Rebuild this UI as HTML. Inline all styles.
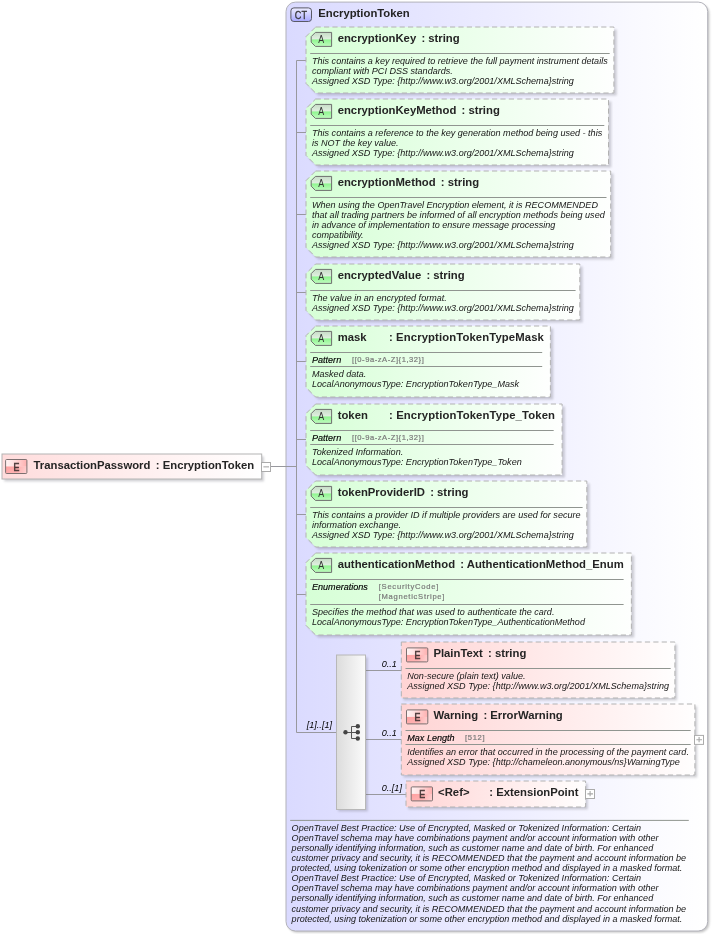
<!DOCTYPE html>
<html><head><meta charset="utf-8"><title>EncryptionToken</title>
<style>html,body{margin:0;padding:0;background:#fff}svg{display:block}text{font-family:"Liberation Sans",sans-serif;white-space:pre}.n{font-weight:bold;font-size:11.3px;fill:#242424}.d{font-style:italic;font-size:9.06px;fill:#161616}.k{font-style:italic;font-size:9.06px;fill:#000;stroke:#000;stroke-width:0.15px}.f{font-size:7.6px;fill:#7a7a7a;stroke:#7a7a7a;stroke-width:0.2px}.m{font-style:italic;font-size:9.06px;fill:#000}.b{font-size:11px;fill:#333}</style></head><body>
<svg width="712" height="934" viewBox="0 0 712 934" style="will-change:transform">
<defs>
<linearGradient id="gc" x1="0" y1="0" x2="1" y2="0"><stop offset="0" stop-color="#dadaff"/><stop offset="0.5" stop-color="#ececff"/><stop offset="0.82" stop-color="#f9f9ff"/><stop offset="1" stop-color="#ffffff"/></linearGradient>
<linearGradient id="ga" x1="0" y1="0" x2="1" y2="0"><stop offset="0" stop-color="#d6ffd6"/><stop offset="1" stop-color="#fefffe"/></linearGradient>
<linearGradient id="ge" x1="0" y1="0" x2="1" y2="0"><stop offset="0" stop-color="#ffd4d4"/><stop offset="1" stop-color="#fffefe"/></linearGradient>
<linearGradient id="gr" x1="0" y1="0" x2="1" y2="0"><stop offset="0" stop-color="#ffdcdc"/><stop offset="1" stop-color="#ffffff"/></linearGradient>
<linearGradient id="gs" x1="0" y1="0" x2="1" y2="0"><stop offset="0" stop-color="#dcdcdc"/><stop offset="1" stop-color="#fbfbfb"/></linearGradient>
<linearGradient id="gba" x1="0" y1="0" x2="0" y2="1"><stop offset="0" stop-color="#c6dcc6"/><stop offset="0.46" stop-color="#dfefdf"/><stop offset="0.54" stop-color="#90f690"/><stop offset="1" stop-color="#c0fbc0"/></linearGradient>
<linearGradient id="gbe" x1="0" y1="0" x2="1" y2="0"><stop offset="0" stop-color="#fff4f4"/><stop offset="0.35" stop-color="#ffe2e2"/><stop offset="1" stop-color="#ffb0b0"/></linearGradient>
<linearGradient id="gbe2" x1="0" y1="0" x2="1" y2="0"><stop offset="0" stop-color="#ffa0a0"/><stop offset="0.5" stop-color="#ffa8a8"/><stop offset="1" stop-color="#ffcccc"/></linearGradient>
<linearGradient id="gbe3" x1="0" y1="0" x2="0" y2="1"><stop offset="0" stop-color="#fff" stop-opacity="0"/><stop offset="1" stop-color="#fff" stop-opacity="0.15"/></linearGradient>
<linearGradient id="gbc" x1="0" y1="0" x2="0" y2="1"><stop offset="0" stop-color="#ececff"/><stop offset="0.45" stop-color="#d0d0ff"/><stop offset="1" stop-color="#a8a8ff"/></linearGradient>
<filter id="sh" x="-5%" y="-5%" width="115%" height="120%"><feGaussianBlur stdDeviation="0.9"/></filter>
<filter id="sh2" x="-5%" y="-5%" width="110%" height="110%"><feGaussianBlur stdDeviation="0.9"/></filter>
</defs>
<rect x="287.6" y="3.7" width="421.70000000000005" height="928.9" rx="9.5" fill="#888" opacity="0.5" filter="url(#sh2)"/>
<rect x="286.0" y="2.1" width="421.70000000000005" height="928.9" rx="9.5" fill="url(#gc)" stroke="#b2b2ba" stroke-width="1"/>
<rect x="290.9" y="7.9" width="20.6" height="13.6" rx="3" fill="url(#gbc)" stroke="#5a5a66" stroke-width="1"/>
<text class="b" transform="translate(300.9 18.6) scale(0.84 1)" text-anchor="middle" style="stroke:#333;stroke-width:0.25px">CT</text>
<text class="n" x="318.3" y="16.9">EncryptionToken</text>
<g stroke="#98989e" stroke-width="1" fill="none">
<path d="M296.5 60.5 V732.5"/>
<path d="M296.5 60.5 H306.0"/>
<path d="M296.5 132.5 H306.0"/>
<path d="M296.5 214.5 H306.0"/>
<path d="M296.5 292.5 H306.0"/>
<path d="M296.5 361.5 H306.0"/>
<path d="M296.5 439.5 H306.0"/>
<path d="M296.5 514.5 H306.0"/>
<path d="M296.5 594.5 H306.0"/>
<path d="M296.5 732.5 H336"/>
<path d="M270.7 466.5 H296.5"/>
<path d="M365.8 670.5 H401.3"/>
<path d="M365.8 739.5 H401.3"/>
<path d="M365.8 794.5 H406"/>
</g>
<path d="M315.6 27 H613.9 V93 H315.6 L306.0 83.4 V36.6 Z" transform="translate(2.8,2.6)" fill="#70707c" opacity="0.32" filter="url(#sh)"/>
<path d="M315.6 27 H613.9 V93 H315.6 L306.0 83.4 V36.6 Z" fill="url(#ga)" stroke="#b2b2b2" stroke-width="1" stroke-dasharray="5.2 3.2"/>
<path d="M331.6 32.4 H315.4 L311.2 36.6 V42.199999999999996 L315.4 46.4 H331.6 Z" fill="url(#gba)" stroke="#6e6e6e" stroke-width="1" stroke-linejoin="round"/>
<text class="b" transform="translate(321.3 43.35) scale(0.84 1)" text-anchor="middle" style="font-size:10.6px">A</text>
<text class="n" x="337.7" y="41.9">encryptionKey</text>
<text class="n" x="421.4" y="41.9">: string</text>
<path d="M310.2 53.5 H609.6999999999999" stroke="#909590" stroke-width="1"/>
<text class="d" x="312.0" y="64.0">This contains a key required to retrieve the full payment instrument details</text>
<text class="d" x="312.0" y="74.07">compliant with PCI DSS standards.</text>
<text class="d" x="312.0" y="84.14">Assigned XSD Type: {http://www.w3.org/2001/XMLSchema}string</text>
<path d="M315.6 99 H608.5 V165 H315.6 L306.0 155.4 V108.6 Z" transform="translate(2.8,2.6)" fill="#70707c" opacity="0.32" filter="url(#sh)"/>
<path d="M315.6 99 H608.5 V165 H315.6 L306.0 155.4 V108.6 Z" fill="url(#ga)" stroke="#b2b2b2" stroke-width="1" stroke-dasharray="5.2 3.2"/>
<path d="M331.6 104.4 H315.4 L311.2 108.60000000000001 V114.2 L315.4 118.4 H331.6 Z" fill="url(#gba)" stroke="#6e6e6e" stroke-width="1" stroke-linejoin="round"/>
<text class="b" transform="translate(321.3 115.35) scale(0.84 1)" text-anchor="middle" style="font-size:10.6px">A</text>
<text class="n" x="337.7" y="113.9">encryptionKeyMethod</text>
<text class="n" x="461.5" y="113.9">: string</text>
<path d="M310.2 125.5 H604.3" stroke="#909590" stroke-width="1"/>
<text class="d" x="312.0" y="136.0">This contains a reference to the key generation method being used - this</text>
<text class="d" x="312.0" y="146.07">is NOT the key value.</text>
<text class="d" x="312.0" y="156.14">Assigned XSD Type: {http://www.w3.org/2001/XMLSchema}string</text>
<path d="M315.6 171 H610.7 V257 H315.6 L306.0 247.4 V180.6 Z" transform="translate(2.8,2.6)" fill="#70707c" opacity="0.32" filter="url(#sh)"/>
<path d="M315.6 171 H610.7 V257 H315.6 L306.0 247.4 V180.6 Z" fill="url(#ga)" stroke="#b2b2b2" stroke-width="1" stroke-dasharray="5.2 3.2"/>
<path d="M331.6 176.4 H315.4 L311.2 180.6 V186.20000000000002 L315.4 190.4 H331.6 Z" fill="url(#gba)" stroke="#6e6e6e" stroke-width="1" stroke-linejoin="round"/>
<text class="b" transform="translate(321.3 187.35) scale(0.84 1)" text-anchor="middle" style="font-size:10.6px">A</text>
<text class="n" x="337.7" y="185.9">encryptionMethod</text>
<text class="n" x="440.8" y="185.9">: string</text>
<path d="M310.2 197.5 H606.5" stroke="#909590" stroke-width="1"/>
<text class="d" x="312.0" y="208.0">When using the OpenTravel Encryption element, it is RECOMMENDED</text>
<text class="d" x="312.0" y="218.07">that all trading partners be informed of all encryption methods being used</text>
<text class="d" x="312.0" y="228.14">in advance of implementation to ensure message processing</text>
<text class="d" x="312.0" y="238.21">compatibility.</text>
<text class="d" x="312.0" y="248.28">Assigned XSD Type: {http://www.w3.org/2001/XMLSchema}string</text>
<path d="M315.6 264 H579.8 V320 H315.6 L306.0 310.4 V273.6 Z" transform="translate(2.8,2.6)" fill="#70707c" opacity="0.32" filter="url(#sh)"/>
<path d="M315.6 264 H579.8 V320 H315.6 L306.0 310.4 V273.6 Z" fill="url(#ga)" stroke="#b2b2b2" stroke-width="1" stroke-dasharray="5.2 3.2"/>
<path d="M331.6 269.4 H315.4 L311.2 273.59999999999997 V279.2 L315.4 283.4 H331.6 Z" fill="url(#gba)" stroke="#6e6e6e" stroke-width="1" stroke-linejoin="round"/>
<text class="b" transform="translate(321.3 280.35) scale(0.84 1)" text-anchor="middle" style="font-size:10.6px">A</text>
<text class="n" x="337.7" y="278.9">encryptedValue</text>
<text class="n" x="426.4" y="278.9">: string</text>
<path d="M310.2 290.5 H575.5999999999999" stroke="#909590" stroke-width="1"/>
<text class="d" x="312.0" y="301.0">The value in an encrypted format.</text>
<text class="d" x="312.0" y="311.07">Assigned XSD Type: {http://www.w3.org/2001/XMLSchema}string</text>
<path d="M315.6 326 H550.4 V397 H315.6 L306.0 387.4 V335.6 Z" transform="translate(2.8,2.6)" fill="#70707c" opacity="0.32" filter="url(#sh)"/>
<path d="M315.6 326 H550.4 V397 H315.6 L306.0 387.4 V335.6 Z" fill="url(#ga)" stroke="#b2b2b2" stroke-width="1" stroke-dasharray="5.2 3.2"/>
<path d="M331.6 331.4 H315.4 L311.2 335.59999999999997 V341.2 L315.4 345.4 H331.6 Z" fill="url(#gba)" stroke="#6e6e6e" stroke-width="1" stroke-linejoin="round"/>
<text class="b" transform="translate(321.3 342.35) scale(0.84 1)" text-anchor="middle" style="font-size:10.6px">A</text>
<text class="n" x="337.7" y="340.9">mask</text>
<text class="n" x="389" y="340.9" textLength="154.9" lengthAdjust="spacing">: EncryptionTokenTypeMask</text>
<path d="M310.2 352.5 H542.2" stroke="#909590" stroke-width="1"/>
<text class="k" x="312.0" y="363.0">Pattern</text>
<text class="f" x="352.0" y="361.8" textLength="71.8" lengthAdjust="spacing">[[0-9a-zA-Z]{1,32}]</text>
<path d="M310.2 366.5 H542.2" stroke="#909590" stroke-width="1"/>
<text class="d" x="312.0" y="377.0">Masked data.</text>
<text class="d" x="312.0" y="387.07">LocalAnonymousType: EncryptionTokenType_Mask</text>
<path d="M315.6 404 H562.1 V475 H315.6 L306.0 465.4 V413.6 Z" transform="translate(2.8,2.6)" fill="#70707c" opacity="0.32" filter="url(#sh)"/>
<path d="M315.6 404 H562.1 V475 H315.6 L306.0 465.4 V413.6 Z" fill="url(#ga)" stroke="#b2b2b2" stroke-width="1" stroke-dasharray="5.2 3.2"/>
<path d="M331.6 409.4 H315.4 L311.2 413.59999999999997 V419.2 L315.4 423.4 H331.6 Z" fill="url(#gba)" stroke="#6e6e6e" stroke-width="1" stroke-linejoin="round"/>
<text class="b" transform="translate(321.3 420.35) scale(0.84 1)" text-anchor="middle" style="font-size:10.6px">A</text>
<text class="n" x="337.7" y="418.9">token</text>
<text class="n" x="389" y="418.9" textLength="166.0" lengthAdjust="spacing">: EncryptionTokenType_Token</text>
<path d="M310.2 430.5 H553.7" stroke="#909590" stroke-width="1"/>
<text class="k" x="312.0" y="441.0">Pattern</text>
<text class="f" x="352.0" y="439.8" textLength="71.8" lengthAdjust="spacing">[[0-9a-zA-Z]{1,32}]</text>
<path d="M310.2 444.5 H553.7" stroke="#909590" stroke-width="1"/>
<text class="d" x="312.0" y="455.0">Tokenized Information.</text>
<text class="d" x="312.0" y="465.07">LocalAnonymousType: EncryptionTokenType_Token</text>
<path d="M315.6 481 H586.8 V547 H315.6 L306.0 537.4 V490.6 Z" transform="translate(2.8,2.6)" fill="#70707c" opacity="0.32" filter="url(#sh)"/>
<path d="M315.6 481 H586.8 V547 H315.6 L306.0 537.4 V490.6 Z" fill="url(#ga)" stroke="#b2b2b2" stroke-width="1" stroke-dasharray="5.2 3.2"/>
<path d="M331.6 486.4 H315.4 L311.2 490.59999999999997 V496.2 L315.4 500.4 H331.6 Z" fill="url(#gba)" stroke="#6e6e6e" stroke-width="1" stroke-linejoin="round"/>
<text class="b" transform="translate(321.3 497.35) scale(0.84 1)" text-anchor="middle" style="font-size:10.6px">A</text>
<text class="n" x="337.7" y="495.9">tokenProviderID</text>
<text class="n" x="430.2" y="495.9">: string</text>
<path d="M310.2 507.5 H582.5999999999999" stroke="#909590" stroke-width="1"/>
<text class="d" x="312.0" y="518.0">This contains a provider ID if multiple providers are used for secure</text>
<text class="d" x="312.0" y="528.07">information exchange.</text>
<text class="d" x="312.0" y="538.14">Assigned XSD Type: {http://www.w3.org/2001/XMLSchema}string</text>
<path d="M315.6 553 H631.4 V635 H315.6 L306.0 625.4 V562.6 Z" transform="translate(2.8,2.6)" fill="#70707c" opacity="0.32" filter="url(#sh)"/>
<path d="M315.6 553 H631.4 V635 H315.6 L306.0 625.4 V562.6 Z" fill="url(#ga)" stroke="#b2b2b2" stroke-width="1" stroke-dasharray="5.2 3.2"/>
<path d="M331.6 558.4 H315.4 L311.2 562.6 V568.1999999999999 L315.4 572.4 H331.6 Z" fill="url(#gba)" stroke="#6e6e6e" stroke-width="1" stroke-linejoin="round"/>
<text class="b" transform="translate(321.3 569.35) scale(0.84 1)" text-anchor="middle" style="font-size:10.6px">A</text>
<text class="n" x="337.7" y="567.9">authenticationMethod</text>
<text class="n" x="460.3" y="567.9">: AuthenticationMethod_Enum</text>
<path d="M310.2 579.5 H623.6" stroke="#909590" stroke-width="1"/>
<text class="k" x="312.0" y="590.0">Enumerations</text>
<text class="f" x="378.7" y="588.8" textLength="59.6" lengthAdjust="spacing">[SecurityCode]</text>
<text class="f" x="378.7" y="598.8" textLength="65.7" lengthAdjust="spacing">[MagneticStripe]</text>
<path d="M310.2 604.5 H623.6" stroke="#909590" stroke-width="1"/>
<text class="d" x="312.0" y="615.0">Specifies the method that was used to authenticate the card.</text>
<text class="d" x="312.0" y="625.07">LocalAnonymousType: EncryptionTokenType_AuthenticationMethod</text>
<rect x="338.2" y="657.4" width="29.6" height="154" fill="#70707c" opacity="0.32" filter="url(#sh)"/>
<rect x="336.5" y="655" width="29" height="154.5" fill="url(#gs)" stroke="#b8b8b8" stroke-width="1"/>
<g stroke="#555" stroke-width="1" fill="none"><path d="M345.5 732.5 H357.5 M351.5 726.5 V738.5 M351.5 726.5 H357.5 M351.5 738.5 H357.5"/></g>
<g fill="#454545"><circle cx="345.5" cy="732.3" r="2.2"/><circle cx="357.8" cy="726.2" r="2.2"/><circle cx="357.8" cy="732.3" r="2.2"/><circle cx="357.8" cy="738.5" r="2.2"/></g>
<text class="m" x="306.8" y="728.3">[1]..[1]</text>
<text class="m" x="381.8" y="666.9">0..1</text>
<text class="m" x="381.8" y="736.1">0..1</text>
<text class="m" x="381.8" y="791.1">0..[1]</text>
<rect x="403.5" y="644.4" width="273.59999999999997" height="56" fill="#70707c" opacity="0.32" filter="url(#sh)"/>
<rect x="401.3" y="642" width="273.6" height="56" fill="url(#ge)" stroke="#b2b2b2" stroke-width="1" stroke-dasharray="5.2 3.2"/>
<rect x="406.5" y="647.9" width="21.3" height="7.2" fill="url(#gbe)"/>
<rect x="406.5" y="654.9" width="21.3" height="7" fill="url(#gbe2)"/>
<rect x="406.5" y="654.9" width="21.3" height="7" fill="url(#gbe3)"/>
<rect x="406.5" y="647.9" width="21.3" height="14" rx="1" fill="none" stroke="#7c7070" stroke-width="1"/>
<text class="b" transform="translate(417.4 658.9) scale(0.8 1)" text-anchor="middle" style="fill:#4a3838;stroke:#4a3838;stroke-width:0.65px">E</text>
<text class="n" x="433.40000000000003" y="656.9">PlainText</text>
<text class="n" x="488.0" y="656.9">: string</text>
<path d="M405.5 668.5 H670.6999999999999" stroke="#909590" stroke-width="1"/>
<text class="d" x="407.3" y="679.0">Non-secure (plain text) value.</text>
<text class="d" x="407.3" y="689.07">Assigned XSD Type: {http://www.w3.org/2001/XMLSchema}string</text>
<rect x="403.5" y="706.4" width="293.59999999999997" height="71" fill="#70707c" opacity="0.32" filter="url(#sh)"/>
<rect x="401.3" y="704" width="293.6" height="71" fill="url(#ge)" stroke="#b2b2b2" stroke-width="1" stroke-dasharray="5.2 3.2"/>
<rect x="406.5" y="709.9" width="21.3" height="7.2" fill="url(#gbe)"/>
<rect x="406.5" y="716.9" width="21.3" height="7" fill="url(#gbe2)"/>
<rect x="406.5" y="716.9" width="21.3" height="7" fill="url(#gbe3)"/>
<rect x="406.5" y="709.9" width="21.3" height="14" rx="1" fill="none" stroke="#7c7070" stroke-width="1"/>
<text class="b" transform="translate(417.4 720.9) scale(0.8 1)" text-anchor="middle" style="fill:#4a3838;stroke:#4a3838;stroke-width:0.65px">E</text>
<text class="n" x="433.40000000000003" y="718.9">Warning</text>
<text class="n" x="483.4" y="718.9">: ErrorWarning</text>
<path d="M405.5 730.5 H690.6999999999999" stroke="#909590" stroke-width="1"/>
<text class="k" x="407.3" y="741.0">Max Length</text>
<text class="f" x="465" y="739.8" textLength="19.5" lengthAdjust="spacing">[512]</text>
<path d="M405.5 744.5 H690.6999999999999" stroke="#909590" stroke-width="1"/>
<text class="d" x="407.3" y="755.0">Identifies an error that occurred in the processing of the payment card.</text>
<text class="d" x="407.3" y="765.07">Assigned XSD Type: {http://chameleon.anonymous/ns}WarningType</text>
<rect x="694.5" y="735.4" width="9" height="9" fill="#fff" stroke="#ababab" stroke-width="1"/>
<path d="M696.4 739.75 H702.0 M699.1 737.0 V742.1999999999999" stroke="#a8a8a8" stroke-width="1.1"/>
<rect x="408.2" y="783.4" width="179.60000000000002" height="26" fill="#70707c" opacity="0.32" filter="url(#sh)"/>
<rect x="406.0" y="781" width="179.6" height="26" fill="url(#ge)" stroke="#b2b2b2" stroke-width="1" stroke-dasharray="5.2 3.2"/>
<rect x="411.2" y="786.9" width="21.3" height="7.2" fill="url(#gbe)"/>
<rect x="411.2" y="793.9" width="21.3" height="7" fill="url(#gbe2)"/>
<rect x="411.2" y="793.9" width="21.3" height="7" fill="url(#gbe3)"/>
<rect x="411.2" y="786.9" width="21.3" height="14" rx="1" fill="none" stroke="#7c7070" stroke-width="1"/>
<text class="b" transform="translate(422.1 797.9) scale(0.8 1)" text-anchor="middle" style="fill:#4a3838;stroke:#4a3838;stroke-width:0.65px">E</text>
<text class="n" x="438.1" y="795.9">&lt;Ref&gt;</text>
<text class="n" x="489.3" y="795.9">: ExtensionPoint</text>
<rect x="585.5" y="789.5" width="9" height="9" fill="#fff" stroke="#ababab" stroke-width="1"/>
<path d="M587.4 793.85 H593.0 M590.1 791.1 V796.3" stroke="#a8a8a8" stroke-width="1.1"/>
<rect x="4.2" y="456.4" width="259.7" height="25" fill="#70707c" opacity="0.32" filter="url(#sh)"/>
<rect x="2" y="454" width="259.7" height="25" fill="url(#gr)" stroke="#b4b4b4" stroke-width="1"/>
<rect x="5.6" y="459.5" width="21.3" height="7.2" fill="url(#gbe)"/>
<rect x="5.6" y="466.5" width="21.3" height="7" fill="url(#gbe2)"/>
<rect x="5.6" y="466.5" width="21.3" height="7" fill="url(#gbe3)"/>
<rect x="5.6" y="459.5" width="21.3" height="14" rx="1" fill="none" stroke="#7c7070" stroke-width="1"/>
<text class="b" transform="translate(16.5 470.5) scale(0.8 1)" text-anchor="middle" style="fill:#4a3838;stroke:#4a3838;stroke-width:0.65px">E</text>
<text class="n" x="33.6" y="468.5">TransactionPassword</text>
<text class="n" x="155.8" y="468.5">: EncryptionToken</text>
<rect x="261.5" y="462.5" width="9" height="9" fill="#fff" stroke="#ababab" stroke-width="1"/>
<path d="M263.4 466.85 H269.0" stroke="#a8a8a8" stroke-width="1.1"/>
<path d="M290.2 820.4 H688.8" stroke="#909590" stroke-width="1"/>
<text class="d" x="291.6" y="830.5">OpenTravel Best Practice: Use of Encrypted, Masked or Tokenized Information: Certain</text>
<text class="d" x="291.6" y="840.64">OpenTravel schema may have combinations payment and/or account information with other</text>
<text class="d" x="291.6" y="850.78">personally identifying information, such as customer name and date of birth. For enhanced</text>
<text class="d" x="291.6" y="860.92">customer privacy and security, it is RECOMMENDED that the payment and account information be</text>
<text class="d" x="291.6" y="871.06">protected, using tokenization or some other encryption method and displayed in a masked format.</text>
<text class="d" x="291.6" y="881.2">OpenTravel Best Practice: Use of Encrypted, Masked or Tokenized Information: Certain</text>
<text class="d" x="291.6" y="891.34">OpenTravel schema may have combinations payment and/or account information with other</text>
<text class="d" x="291.6" y="901.48">personally identifying information, such as customer name and date of birth. For enhanced</text>
<text class="d" x="291.6" y="911.62">customer privacy and security, it is RECOMMENDED that the payment and account information be</text>
<text class="d" x="291.6" y="921.76">protected, using tokenization or some other encryption method and displayed in a masked format.</text>
</svg></body></html>
